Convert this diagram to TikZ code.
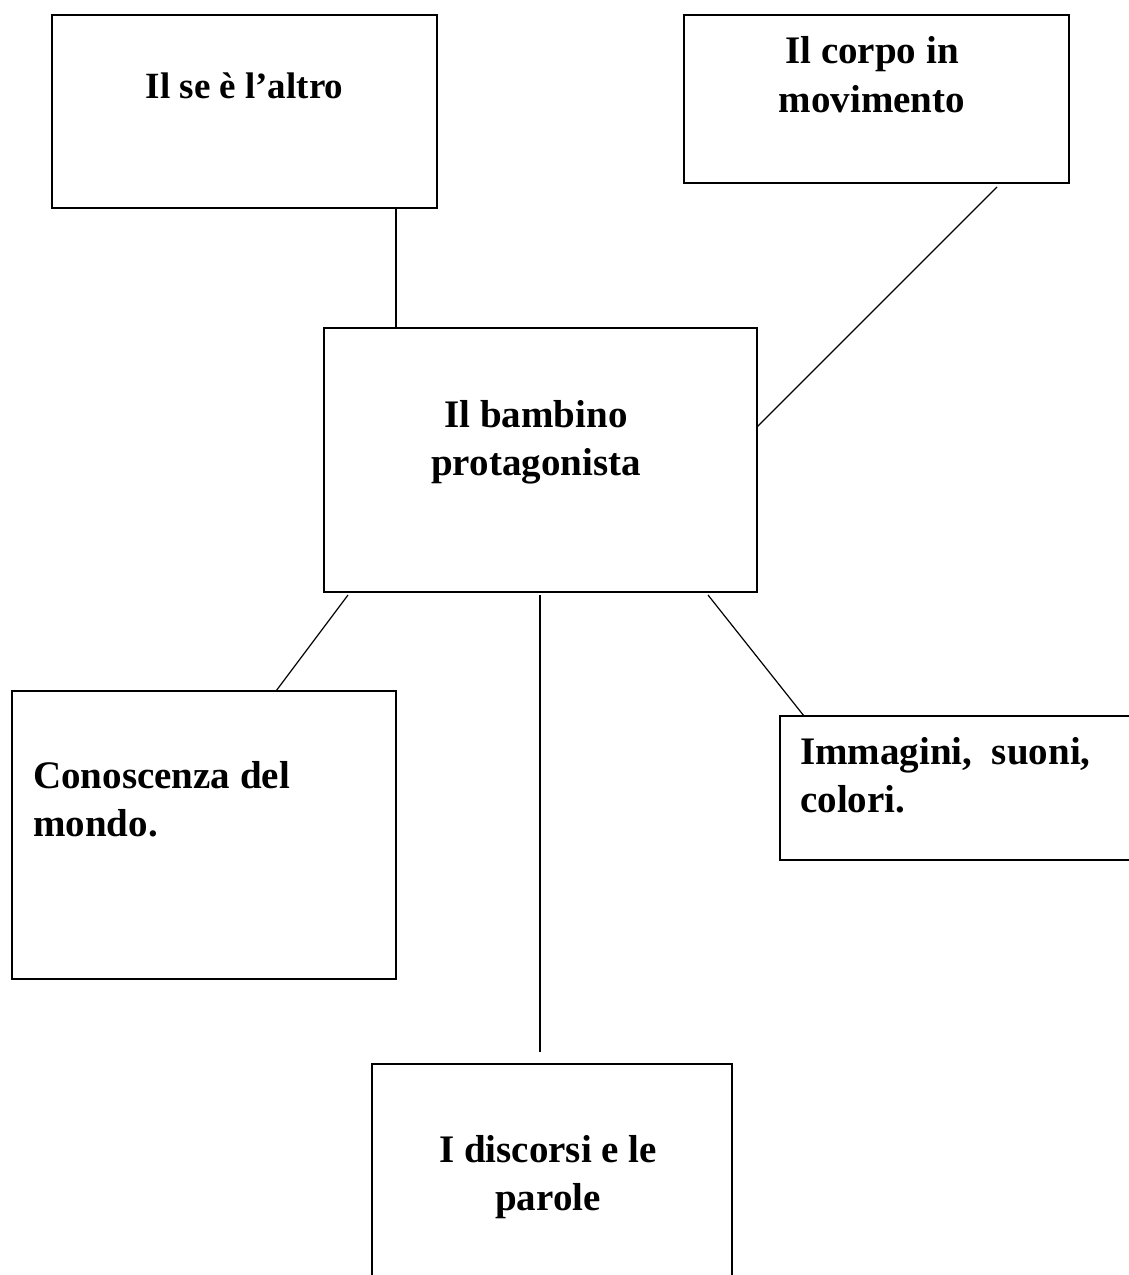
\documentclass[tikz,border=0pt]{standalone}
\usepackage{fontspec}
\setmainfont{Liberation Serif}
\begin{document}
\begin{tikzpicture}[x=1pt,y=-1pt,
  boxnode/.style={draw=black, line width=1.8pt, inner sep=0pt, outer sep=0pt, anchor=north west},
  conn/.style={draw=black, line width=1.2pt},
  lbl/.style={inner sep=0pt, font=\bfseries\fontsize{39}{47}\selectfont},
]
\useasboundingbox (0,0) rectangle (1129,1275);
% boxes
\node[boxnode, minimum width=385pt, minimum height=193pt] (b1) at (52,15) {};
\node[boxnode, minimum width=385pt, minimum height=168pt] (b2) at (684,15) {};
\node[boxnode, minimum width=433pt, minimum height=264pt] (c) at (324,328) {};
\node[boxnode, minimum width=384pt, minimum height=288pt] (b4) at (12,691) {};
\node[boxnode, minimum width=370pt, minimum height=144pt] (b5) at (780,716) {};
\node[boxnode, minimum width=360pt, minimum height=230pt] (b6) at (372,1064) {};
% texts
\node[lbl, anchor=base, font=\bfseries\fontsize{37}{47}\selectfont] (t1) at (244.5,98) {Il se è l’altro};
\node[lbl, anchor=base] (t2a) at (872,63) {Il corpo in};
\node[lbl, anchor=base] (t2b) at (872,112) {movimento};
\node[lbl, anchor=base] (t3a) at (536,427) {Il bambino};
\node[lbl, anchor=base] (t3b) at (536,475) {protagonista};
\node[lbl, anchor=base west] (t4a) at (33,788) {Conoscenza del};
\node[lbl, anchor=base west] (t4b) at (33,836) {mondo.};
\node[lbl, anchor=base west] (t5a) at (800,764) {Immagini,\ \ suoni,};
\node[lbl, anchor=base west] (t5b) at (800,812) {colori.};
\node[lbl, anchor=base] (t6a) at (548,1162) {I discorsi e le};
\node[lbl, anchor=base] (t6b) at (548,1210) {parole};
% connectors
\draw[conn] ([xshift=-41pt]b1.south east) -- ([xshift=72pt]c.north west);
\draw[conn] ([xshift=-72pt,yshift=-4pt]b2.south east) -- ([yshift=-99pt]c.north east);
\draw[conn] ([xshift=24pt,yshift=-3pt]c.south west) -- ([xshift=264pt]b4.north west);
\draw[conn] ([xshift=-0.5pt,yshift=-3pt]c.south) -- ([xshift=-12pt,yshift=12pt]b6.north);
\draw[conn] ([xshift=-49pt,yshift=-3pt]c.south east) -- ([xshift=24pt]b5.north west);
\end{tikzpicture}
\end{document}
